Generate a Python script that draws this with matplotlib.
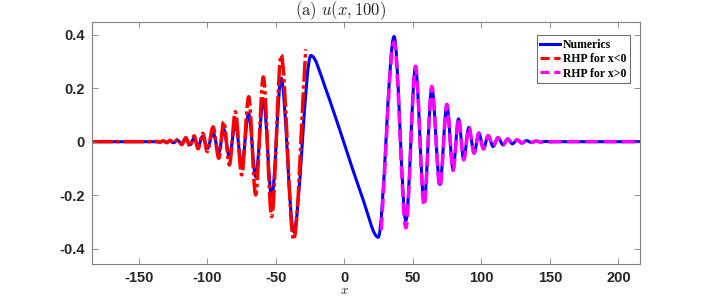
import matplotlib
matplotlib.use('Agg')
import matplotlib.pyplot as plt
from matplotlib.path import Path
from matplotlib.patches import PathPatch
from matplotlib.lines import Line2D
import numpy as np

plt.rcParams['mathtext.fontset'] = 'cm'
plt.rcParams['axes.unicode_minus'] = False

# extrema of the curves
num_x = [-184, -140, -134.5, -132, -129.5, -127, -124.6, -121.7, -118.5, -115.6, -112.5,
         -109.5, -106.6, -103.2, -99.9, -95.7, -91.5, -87.9, -83.8, -79.4, -74.8, -69.7,
         -64.6, -59.0, -52.9, -46.0, -36.9, -24.3, -14.1, 14, 24.8, 36.4, 45.0, 52.0,
         58.3, 63.9, 69.8, 74.9, 79.4, 83.4, 87.2, 90.9, 94.8, 98.2, 101.6, 105.0, 108.6,
         112.2, 115.9, 119.3, 122.7, 126.1, 129.6, 133.0, 136.5, 140.0, 143.5, 147.0,
         150.5, 155, 216]
num_y = [0, 0, -0.001, 0.0015, -0.002, 0.003, -0.004, 0.005, -0.007, 0.010, -0.012,
         0.014, -0.017, 0.021, -0.026, 0.034, -0.040, 0.047, -0.056, 0.068, -0.087, 0.105,
         -0.131, 0.160, -0.207, 0.237, -0.336, 0.322, 0.206, -0.22, -0.357, 0.393, -0.295, 0.275,
         -0.225, 0.200, -0.160, 0.135, -0.102, 0.085, -0.066, 0.053, -0.042, 0.032, -0.027, 0.023, -0.018,
         0.015, -0.012, 0.010, -0.008, 0.007, -0.005, 0.004, -0.003, 0.002, -0.0015, 0.001,
         -0.0005, 0, 0]

neg_x = [-184, -140, -137, -134.5, -132, -129.5, -127, -124.6, -121.7, -118.5, -115.6, -112.5,
         -109.5, -106.6, -103.2, -99.9, -95.7, -91.5, -87.9, -83.8, -79.4, -74.8, -69.7,
         -64.6, -59.0, -52.9, -46.0, -36.9, -28.1]
neg_y = [0, 0, 0.001, -0.002, 0.003, -0.004, 0.005, -0.006, 0.008, -0.011, 0.015, -0.018,
         0.022, -0.026, 0.031, -0.037, 0.055, -0.062, 0.075, -0.087, 0.112, -0.124, 0.168,
         -0.199, 0.242, -0.280, 0.324, -0.366, 0.345]

pos_x = [27, 36.4, 45.0, 52.0, 58.3, 63.9, 69.8, 74.9, 79.4, 83.4, 87.2, 90.9, 94.8, 98.2,
         101.6, 105.0, 108.6, 112.2, 115.9, 119.3, 122.7, 126.1, 129.6, 133.0, 136.5, 140.0,
         143.5, 147.0, 150.5, 155, 216]
pos_y = [-0.33, 0.372, -0.322, 0.282, -0.240, 0.207, -0.170, 0.140, -0.108, 0.087, -0.068,
         0.054, -0.043, 0.032, -0.027, 0.023, -0.018, 0.015, -0.012, 0.010, -0.008, 0.007,
         -0.005, 0.004, -0.003, 0.002, -0.0015, 0.001, -0.0005, 0, 0]

xticks = [-150, -100, -50, 0, 50, 100, 150, 200]
yticks = [-0.4, -0.2, 0, 0.2, 0.4]
ytick_labels = ['-0.4', '-0.2', '0', '0.2', '0.4']


def smooth_path(xs, ys):
    # smooth bezier path through the read points (flat at the extrema)
    xs = np.asarray(xs, float)
    ys = np.asarray(ys, float)
    n = len(xs)
    m = np.zeros(n)
    for i in range(n):
        if i == 0:
            m[i] = (ys[1] - ys[0]) / (xs[1] - xs[0])
        elif i == n - 1:
            m[i] = (ys[-1] - ys[-2]) / (xs[-1] - xs[-2])
        else:
            d0 = ys[i] - ys[i - 1]
            d1 = ys[i + 1] - ys[i]
            if d0 * d1 <= 0:
                m[i] = 0
            else:
                m[i] = (ys[i + 1] - ys[i - 1]) / (xs[i + 1] - xs[i - 1])
    verts = [(xs[0], ys[0])]
    codes = [Path.MOVETO]
    for i in range(n - 1):
        h = xs[i + 1] - xs[i]
        verts += [(xs[i] + h / 3, ys[i] + m[i] * h / 3),
                  (xs[i + 1] - h / 3, ys[i + 1] - m[i + 1] * h / 3),
                  (xs[i + 1], ys[i + 1])]
        codes += [Path.CURVE4] * 3
    return Path(verts, codes)


fig = plt.figure(figsize=(7.08, 2.97), dpi=100)
ax = fig.add_axes([92 / 708, 1 - 264 / 297, (640.3 - 92) / 708, (264 - 22.3) / 297])

ax.add_patch(PathPatch(smooth_path(num_x, num_y), fill=False, edgecolor='#0000ff', lw=2.2,
                       capstyle='butt', joinstyle='round'))
ax.add_patch(PathPatch(smooth_path(neg_x, neg_y), fill=False, edgecolor='#ff0000', lw=2.5,
                       linestyle=(0, (6, 1, 1, 1)), capstyle='butt', joinstyle='round'))
ax.add_patch(PathPatch(smooth_path(pos_x, pos_y), fill=False, edgecolor='#ff00ff', lw=2.5,
                       linestyle='--', capstyle='butt', joinstyle='round'))

ax.set_xlim(-184, 216)
ax.set_ylim(-0.457, 0.446)
ax.set_xticks(xticks)
ax.set_yticks(yticks)
ax.set_yticklabels(ytick_labels)
ax.tick_params(direction='in', length=4, width=0.5, color='0.4', top=True, right=True,
               labelsize=10.5, labelcolor='#262626')
ax.tick_params(axis='x', pad=5)
ax.tick_params(axis='y', pad=5)
for lab in ax.get_xticklabels() + ax.get_yticklabels():
    lab.set_fontfamily('Liberation Sans')
    lab.set_fontweight('bold')
for s in ax.spines.values():
    s.set_color('0.5')
    s.set_linewidth(0.8)

ax.text(-3, 0.446, r'$\mathrm{(a)}\ u(x,100)$', ha='center', va='bottom', fontsize=12,
        color='#262626')
ax.text(0, -0.533, r'$x$', ha='center', va='top', fontsize=9.5, color='#262626')

handles = [Line2D([], [], color='#0000ff', lw=2.2),
           Line2D([], [], color='#ff0000', lw=2.2, ls='--', dashes=(3, 1.5)),
           Line2D([], [], color='#ff00ff', lw=2.2, ls='--', dashes=(3, 1.5))]
leg = ax.legend(handles, ['Numerics', 'RHP for x<0', 'RHP for x>0'], loc='upper right',
                bbox_to_anchor=(0.981, 0.946), fancybox=False, framealpha=1,
                edgecolor='0.3', handlelength=1.7, handletextpad=0.2, borderpad=0.3,
                labelspacing=0.2, borderaxespad=0,
                prop={'family': 'Liberation Serif', 'weight': 'bold', 'size': 8.5})
leg.get_frame().set_linewidth(0.6)

fig.savefig('out.png', dpi=100)
